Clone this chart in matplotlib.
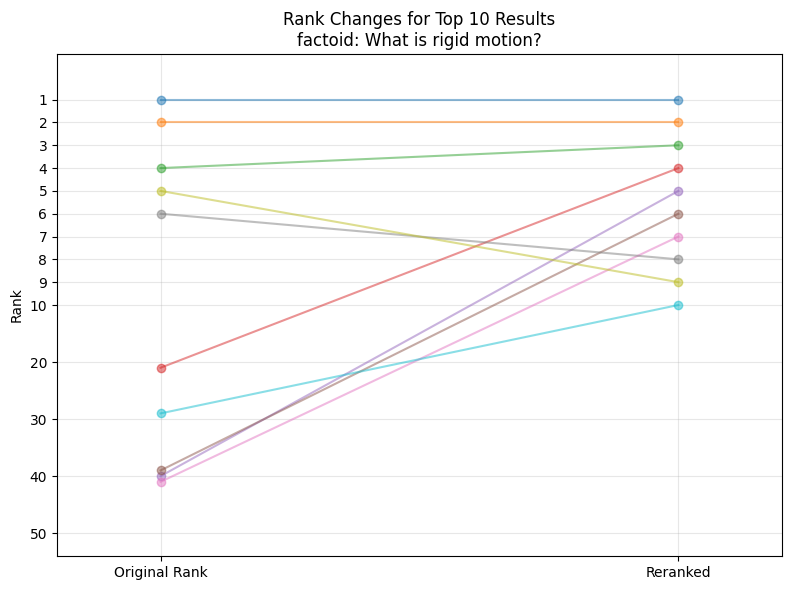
import matplotlib
matplotlib.use("Agg")
import matplotlib.pyplot as plt
import numpy as np

original_ranks = [1, 2, 4, 21, 40, 39, 41, 6, 5, 29]
reranked_ranks = [1, 2, 3, 4, 5, 6, 7, 8, 9, 10]
x_labels = ["Original Rank", "Reranked"]
y_ticks = [1, 2, 3, 4, 5, 6, 7, 8, 9, 10, 20, 30, 40, 50]
title = "Rank Changes for Top 10 Results\nfactoid: What is rigid motion?"


def tr(r):
    r = np.asarray(r, dtype=float)
    return np.where(r <= 10, r, 10 + (r - 10) / 4.0)


fig, ax = plt.subplots(figsize=(7.9, 5.9), dpi=100)
colors = plt.rcParams['axes.prop_cycle'].by_key()['color']
for i, (o, r) in enumerate(zip(original_ranks, reranked_ranks)):
    ax.plot([0, 1], tr([o, r]), marker='o', color=colors[i % len(colors)],
            alpha=0.5, linewidth=1.5, markersize=6)

ax.set_xticks([0, 1])
ax.set_xticklabels(x_labels)
ax.set_xlim(-0.2, 1.2)
ax.set_yticks(tr(y_ticks))
ax.set_yticklabels([str(t) for t in y_ticks])
ax.set_ylim(21, -1)
ax.set_ylabel("Rank")
ax.set_title(title)
ax.grid(True, alpha=0.3)
fig.subplots_adjust(left=57/790, right=782/790, top=1-54/590, bottom=1-556/590)
fig.savefig("out.png", dpi=100)
